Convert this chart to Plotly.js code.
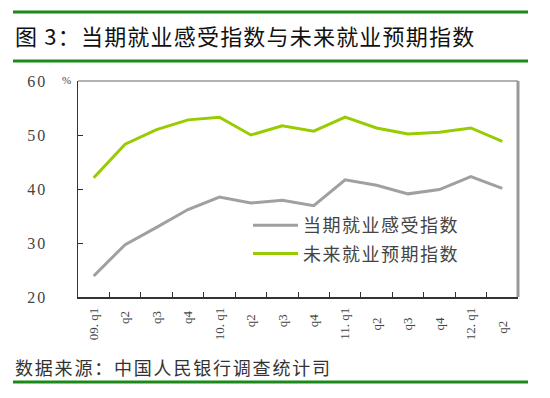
<!DOCTYPE html>
<html>
<head>
<meta charset="utf-8">
<script src="https://cdn.plot.ly/plotly-3.0.1.min.js"></script>
<style>
html,body{margin:0;padding:0;background:#fff;}
#chart{width:550px;height:398px;}
.legendtext{letter-spacing:1.5px;}
.gtitle{letter-spacing:1.2px;}
.annotation-text{letter-spacing:1.8px;}
.ytick text{letter-spacing:2px;}
</style>
</head>
<body>
<div id="chart"></div>
<script>
const categories = ["09. q1","q2 ","q3 ","q4 ","10. q1","q2  ","q3  ","q4  ","11. q1","q2   ","q3   ","q4   ","12. q1","q2    "];
const currentIndex = [23.9, 29.7, 32.9, 36.2, 38.5, 37.4, 37.9, 36.9, 41.7, 40.7, 39.1, 39.9, 42.3, 40.1];
const futureIndex = [42.1, 48.3, 51.0, 52.8, 53.3, 50.0, 51.7, 50.7, 53.3, 51.3, 50.2, 50.5, 51.3, 48.8];
const seriesNames = ["当期就业感受指数", "未来就业预期指数"];
const yTicks = [20, 30, 40, 50, 60];

const green = '#1a8a1a';
const traces = [
  {x: categories, y: currentIndex, name: seriesNames[0], type: 'scatter', mode: 'lines',
   line: {color: '#a0a0a0', width: 3}, legendgroup: 'a'},
  {x: categories, y: futureIndex, name: seriesNames[1], type: 'scatter', mode: 'lines',
   line: {color: '#99cc00', width: 3}, legendgroup: 'b'}
];

const layout = {
  width: 550, height: 398,
  margin: {l: 78, r: 32, t: 81, b: 101},
  paper_bgcolor: '#fff', plot_bgcolor: '#fff',
  showlegend: true,
  title: {text: '图 3：当期就业感受指数与未来就业预期指数', x: 15/550, xanchor: 'left', xref: 'container',
          y: 1 - 37/398, yanchor: 'middle', yref: 'container',
          font: {family: '"Noto Sans CJK SC", sans-serif', size: 22, color: '#111'}},
  legend: {x: (248-78)/440, xanchor: 'left', y: (297-207)/216, yanchor: 'top',
           bgcolor: 'rgba(0,0,0,0)', traceorder: 'grouped', tracegroupgap: 2, itemwidth: 45,
           font: {family: '"Noto Sans CJK SC", sans-serif', size: 18, color: '#444'}},
  xaxis: {type: 'category', tickson: 'boundaries', ticks: 'inside', ticklen: 5, tickcolor: '#333',
          showline: true, linecolor: '#333', linewidth: 1.5, showgrid: false, zeroline: false,
          tickangle: -90, ticklabelstandoff: 4,
          tickfont: {family: '"Liberation Serif", serif', size: 13, color: '#444'},
          range: [-0.5, 13.5]},
  yaxis: {range: [20, 60], tickvals: yTicks, ticks: 'inside', ticklen: 5, tickcolor: '#333',
          showline: true, linecolor: '#333', linewidth: 1.5, showgrid: false, zeroline: false,
          ticklabelstandoff: 26,
          tickfont: {family: '"Liberation Serif", serif', size: 16, color: '#444'}},
  shapes: [
    {type: 'line', xref: 'paper', yref: 'paper', x0: 0, x1: 1, y0: 1, y1: 1, line: {color: '#999', width: 1.5}},
    {type: 'line', xref: 'paper', yref: 'paper', x0: 1, x1: 1, y0: 0, y1: 1, line: {color: '#999', width: 3}},
    {type: 'line', xref: 'paper', yref: 'paper', x0: (13-78)/440, x1: (528-78)/440, y0: (297-12)/216, y1: (297-12)/216, line: {color: green, width: 3}},
    {type: 'line', xref: 'paper', yref: 'paper', x0: (13-78)/440, x1: (528-78)/440, y0: (297-61)/216, y1: (297-61)/216, line: {color: green, width: 3}},
    {type: 'line', xref: 'paper', yref: 'paper', x0: (13-78)/440, x1: (528-78)/440, y0: (297-382)/216, y1: (297-382)/216, line: {color: green, width: 3}}
  ],
  annotations: [
    {text: '%', xref: 'paper', yref: 'paper', x: (60-78)/440, y: (297-80)/216, xanchor: 'left', yanchor: 'middle',
     showarrow: false, font: {family: '"Liberation Serif", serif', size: 11, color: '#444'}},
    {text: '数据来源：中国人民银行调查统计司', xref: 'paper', yref: 'paper', x: (13-78)/440, y: (297-367)/216,
     xanchor: 'left', yanchor: 'middle', showarrow: false,
     font: {family: '"Noto Sans CJK SC", sans-serif', size: 18, color: '#333'}}
  ]
};

Plotly.newPlot('chart', traces, layout, {staticPlot: true, displayModeBar: false});
</script>
</body>
</html>
